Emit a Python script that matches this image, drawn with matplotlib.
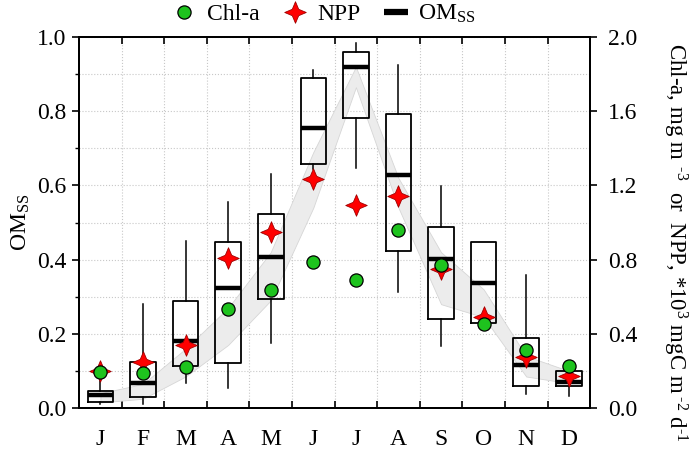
import numpy as np
import matplotlib
matplotlib.use("Agg")
import matplotlib.pyplot as plt
from matplotlib.path import Path
from matplotlib.lines import Line2D

plt.rcParams['font.family'] = ['Liberation Serif', 'DejaVu Serif']
plt.rcParams['mathtext.fontset'] = 'custom'
plt.rcParams['mathtext.rm'] = 'Liberation Serif'
plt.rcParams['mathtext.it'] = 'Liberation Serif:italic'

months = ['J', 'F', 'M', 'A', 'M', 'J', 'J', 'A', 'S', 'O', 'N', 'D']

# OMss box statistics (left axis)
om_whislo = [0.010, 0.010, 0.068, 0.053, 0.175, 0.645, 0.648, 0.314, 0.168, 0.229, 0.038, 0.032]
om_q1     = [0.017, 0.029, 0.114, 0.121, 0.295, 0.659, 0.783, 0.424, 0.241, 0.229, 0.059, 0.059]
om_med    = [0.035, 0.067, 0.182, 0.323, 0.407, 0.754, 0.920, 0.627, 0.402, 0.337, 0.116, 0.071]
om_q3     = [0.047, 0.125, 0.289, 0.448, 0.522, 0.890, 0.961, 0.794, 0.488, 0.448, 0.188, 0.101]
om_whishi = [0.085, 0.281, 0.451, 0.555, 0.632, 0.912, 0.984, 0.925, 0.598, 0.448, 0.359, 0.101]

# grey band (left axis units)
band_upper = [0.040, 0.065, 0.160, 0.270, 0.420, 0.690, 0.920, 0.620, 0.420, 0.320, 0.140, 0.100]
band_lower = [0.015, 0.025, 0.085, 0.170, 0.290, 0.540, 0.865, 0.540, 0.280, 0.245, 0.085, 0.067]

# right axis series
chla = [0.196, 0.187, 0.223, 0.533, 0.634, 0.785, 0.692, 0.962, 0.773, 0.452, 0.314, 0.227]
npp  = [0.200, 0.250, 0.340, 0.810, 0.950, 1.236, 1.097, 1.146, 0.750, 0.490, 0.274, 0.170]

x = np.arange(1, len(months) + 1)
FS = 17

fig = plt.figure(figsize=(7.0, 4.53), dpi=100)
ax = fig.add_axes([0.113, 0.0993, 0.730, 0.8187])
ax2 = ax.twinx()

ax.fill_between(x, band_lower, band_upper, facecolor='#ececec', edgecolor='#d6d6d6',
                linewidth=0.6, zorder=1)

stats = []
for i in range(len(months)):
    stats.append(dict(med=om_med[i], q1=om_q1[i], q3=om_q3[i],
                      whislo=om_whislo[i], whishi=om_whishi[i], fliers=[]))
ax.bxp(stats, positions=x, widths=0.6, showcaps=False, showfliers=False,
       patch_artist=False,
       boxprops=dict(color='black', linewidth=1.3),
       whiskerprops=dict(color='black', linewidth=1.1),
       medianprops=dict(color='black', linewidth=3.2, solid_capstyle='butt'),
       manage_ticks=False, zorder=3)

star = Path.unit_regular_star(4, 0.42)

ax2.plot(x, npp, linestyle='none', marker=star, markersize=15.5,
         markerfacecolor='#ff0000', markeredgecolor='#a00000', markeredgewidth=0.6, zorder=5)
ax2.plot(x, chla, linestyle='none', marker='o', markersize=9.5,
         markerfacecolor='#1ec31e', markeredgecolor='black', markeredgewidth=0.9, zorder=6)

ax.set_xlim(0.5, 12.5)
ax.set_ylim(0, 1.0)
ax2.set_ylim(0, 2.0)

ax.set_xticks(x)
ax.set_xticklabels(months)
ax.set_xticks(np.arange(1.5, 12.0, 1.0), minor=True)
ax.tick_params(axis='x', which='major', length=0, pad=15, labelsize=FS)
ax.tick_params(axis='x', which='minor', direction='in', length=5, width=1.2,
               top=True, bottom=True)
ax.set_yticks(np.arange(0, 1.01, 0.2))
ax.set_yticks(np.arange(0.1, 1.0, 0.2), minor=True)
ax.set_yticklabels(['%.1f' % v for v in np.arange(0, 1.01, 0.2)])
ax.tick_params(axis='y', which='major', direction='out', length=5, width=1.2,
               labelsize=FS, pad=4)
ax.tick_params(axis='y', which='minor', direction='out', length=3, width=1.0)

ax2.set_yticks(np.arange(0, 2.01, 0.4))
ax2.set_yticklabels(['%.1f' % v for v in np.arange(0, 2.01, 0.4)])
ax2.tick_params(axis='y', which='major', direction='out', length=5, width=1.2,
                labelsize=FS, pad=8)

ax.grid(which='minor', axis='both', linestyle=':', color='#c8c8c8', linewidth=0.8)
ax.grid(which='major', axis='y', linestyle=':', color='#c8c8c8', linewidth=0.8)
ax.grid(which='major', axis='x', visible=False)
ax.set_axisbelow(True)

for sp in list(ax.spines.values()) + list(ax2.spines.values()):
    sp.set_linewidth(1.4)

ax.set_ylabel('OM$_{\\rm SS}$', fontsize=FS, labelpad=4)
ax2.set_ylabel('Chl-a, mg m$^{\\ \\ \u2010 3}$  or  NPP, *10$^{3}$ mgC m$^{\\ \u2010 2}$ d$^{\u2010 1}$',
               fontsize=16.5, rotation=270, va='center')
ax2.yaxis.set_label_coords(1.166, 0.447)

handles = [
    Line2D([], [], linestyle='none', marker='o', markersize=9.5,
           markerfacecolor='#1ec31e', markeredgecolor='black', markeredgewidth=0.9),
    Line2D([], [], linestyle='none', marker=star, markersize=15.5,
           markerfacecolor='#ff0000', markeredgecolor='#a00000', markeredgewidth=0.6),
    Line2D([], [], color='black', linewidth=4.5, solid_capstyle='butt'),
]
fig.legend(handles, ['Chl-a', 'NPP', 'OM$_{\\rm SS}$'], loc='upper center',
           bbox_to_anchor=(0.463, 1.04), ncol=3, frameon=False, fontsize=FS,
           handlelength=1.0, handletextpad=0.45, columnspacing=1.0)

fig.savefig('out.png', dpi=100)
